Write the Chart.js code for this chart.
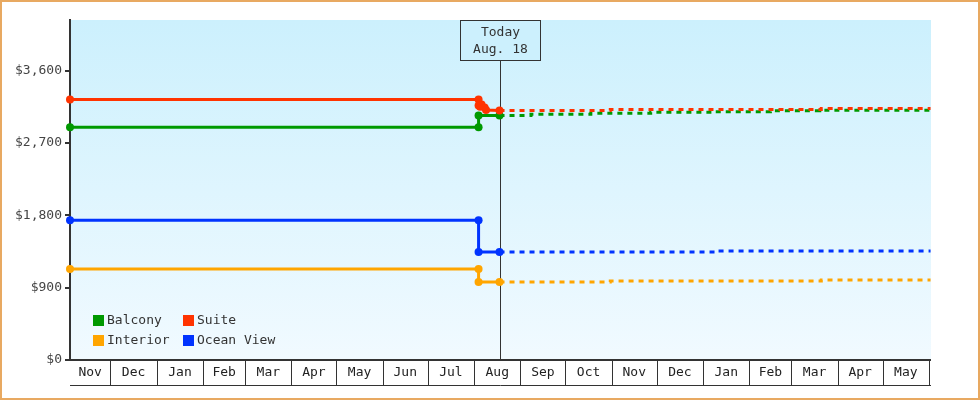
<!DOCTYPE html>
<html>
<head>
<meta charset="utf-8">
<script src="https://cdn.jsdelivr.net/npm/chart.js@4.4.0/dist/chart.umd.min.js"></script>
<style>
    html, body { margin: 0; padding: 0; background: #fff; }
    #wrap { width: 980px; height: 400px; }
</style>
</head>
<body>
<div id="wrap"><canvas id="chartPrecos" width="980" height="400"></canvas></div>
<script>
// datas em texto, convertidas para "dias desde o inicio" logo abaixo
const dataInicio = '2013-11-04';
const dataFim = '2015-06-02';
const hoje = '2014-08-18';
const hojeTexto = ['Today', 'Aug. 18'];

const mesesInicio = ['2013-12-01', '2014-01-01', '2014-02-01', '2014-03-01', '2014-04-01', '2014-05-01',
    '2014-06-01', '2014-07-01', '2014-08-01', '2014-09-01', '2014-10-01', '2014-11-01', '2014-12-01',
    '2015-01-01', '2015-02-01', '2015-03-01', '2015-04-01', '2015-05-01', '2015-06-01'];
const mesesLabels = ['Nov', 'Dec', 'Jan', 'Feb', 'Mar', 'Apr', 'May', 'Jun', 'Jul', 'Aug', 'Sep', 'Oct',
    'Nov', 'Dec', 'Jan', 'Feb', 'Mar', 'Apr', 'May'];

const yTicks = [0, 900, 1800, 2700, 3600];
const yMax = 4230;

// historico (linha cheia)
const suiteDatas = ['2013-11-04', '2014-08-04', '2014-08-04', '2014-08-05', '2014-08-06', '2014-08-08', '2014-08-09', '2014-08-18'];
const suiteValores = [3240, 3240, 3165, 3150, 3180, 3140, 3110, 3105];
const balconyDatas = ['2013-11-04', '2014-08-04', '2014-08-04', '2014-08-18'];
const balconyValores = [2895, 2895, 3042, 3042];
const oceanDatas = ['2013-11-04', '2014-08-04', '2014-08-04', '2014-08-18'];
const oceanValores = [1740, 1740, 1343, 1343];
const interiorDatas = ['2013-11-04', '2014-08-04', '2014-08-04', '2014-08-18'];
const interiorValores = [1132, 1132, 971, 971];

// previsao (tracejado)
const suitePrevDatas = ['2014-08-18', '2014-10-31', '2015-03-21', '2015-06-02'];
const suitePrevValores = [3105, 3118, 3128, 3128];
const balconyPrevDatas = ['2014-08-18', '2014-09-08', '2014-10-18', '2014-11-27', '2015-01-07', '2015-02-15', '2015-03-20', '2015-06-02'];
const balconyPrevValores = [3042, 3056, 3069, 3081, 3089, 3100, 3106, 3106];
const oceanPrevDatas = ['2014-08-18', '2015-01-09', '2015-06-02'];
const oceanPrevValores = [1343, 1355, 1355];
const interiorPrevDatas = ['2014-08-18', '2014-10-31', '2015-03-21', '2015-06-02'];
const interiorPrevValores = [971, 983, 996, 996];

const nomes = ['Balcony', 'Suite', 'Interior', 'Ocean View'];
const cores = ['#009900', '#ff3300', '#ffa500', '#0033ff'];

const fonte = 'DejaVu Sans Mono';

function dia(texto) {
    return (Date.parse(texto) - Date.parse(dataInicio)) / 86400000;
}

function pontos(datas, valores) {
    var lista = [];
    for (var i = 0; i < datas.length; i++) {
        lista.push({ x: dia(datas[i]), y: valores[i] });
    }
    return lista;
}

function serieHistorico(datas, valores, cor) {
    return {
        data: pontos(datas, valores),
        borderColor: cor,
        backgroundColor: cor,
        borderWidth: 3,
        pointRadius: 4,
        pointBorderWidth: 0,
        pointBackgroundColor: cor,
        clip: false
    };
}

function seriePrevisao(datas, valores, cor) {
    return {
        data: pontos(datas, valores),
        borderColor: cor,
        borderWidth: 3,
        borderDash: [5, 5],
        stepped: 'before',
        pointRadius: 0,
        clip: false
    };
}

const pluginDesenho = {
    id: 'desenho',
    beforeDraw(chart) {
        const { ctx, chartArea: a } = chart;
        const grad = ctx.createLinearGradient(0, a.top, 0, a.bottom);
        grad.addColorStop(0, '#ccf0fd');
        grad.addColorStop(1, '#f1faff');
        ctx.save();
        ctx.fillStyle = grad;
        ctx.fillRect(a.left, a.top, a.right - a.left, a.bottom - a.top);
        ctx.restore();
    },
    beforeDatasetsDraw(chart) {
        const { ctx, chartArea: a } = chart;
        const xHoje = Math.round(chart.scales.x.getPixelForValue(dia(hoje))) + 0.5;
        ctx.save();
        ctx.strokeStyle = '#333';
        ctx.lineWidth = 1;
        ctx.beginPath();
        ctx.moveTo(xHoje, 61);
        ctx.lineTo(xHoje, a.bottom);
        ctx.stroke();
        ctx.restore();
    },
    afterDraw(chart) {
        const { ctx, chartArea: a } = chart;
        const escalaX = chart.scales.x;
        ctx.save();

        // caixa do "Today"
        const xHoje = Math.round(escalaX.getPixelForValue(dia(hoje))) + 0.5;
        ctx.fillStyle = '#ccf0fd';
        ctx.fillRect(xHoje - 40, 20.5, 80, 40);
        ctx.strokeStyle = '#333';
        ctx.lineWidth = 1;
        ctx.strokeRect(xHoje - 40, 20.5, 80, 40);
        ctx.fillStyle = '#333';
        ctx.font = '13px "' + fonte + '"';
        ctx.textAlign = 'center';
        ctx.textBaseline = 'middle';
        ctx.fillText(hojeTexto[0], xHoje, 33);
        ctx.fillText(hojeTexto[1], xHoje, 50);

        // caixas dos meses
        const topo = a.bottom;
        const base = a.bottom + 25;
        ctx.strokeStyle = '#333';
        ctx.lineWidth = 2;
        ctx.beginPath();
        ctx.moveTo(a.left, topo);
        ctx.lineTo(a.right, topo);
        ctx.stroke();
        ctx.lineWidth = 1;
        ctx.beginPath();
        ctx.moveTo(a.left, base + 0.5);
        ctx.lineTo(a.right, base + 0.5);
        for (var i = 0; i < mesesInicio.length; i++) {
            const xm = Math.round(escalaX.getPixelForValue(dia(mesesInicio[i]))) + 0.5;
            ctx.moveTo(xm, topo);
            ctx.lineTo(xm, base);
        }
        ctx.stroke();
        ctx.fillStyle = '#222';
        var anterior = a.left;
        for (var j = 0; j < mesesLabels.length; j++) {
            const prox = escalaX.getPixelForValue(dia(mesesInicio[j]));
            ctx.fillText(mesesLabels[j], (anterior + prox) / 2, topo + 13);
            anterior = prox;
        }

        // legenda 2x2
        ctx.textAlign = 'left';
        for (var k = 0; k < nomes.length; k++) {
            const lx = 93 + (k % 2) * 90;
            const ly = 320 + Math.floor(k / 2) * 20;
            ctx.fillStyle = cores[k];
            ctx.fillRect(lx, ly - 5, 11, 11);
            ctx.fillStyle = '#333';
            ctx.fillText(nomes[k], lx + 14, ly + 1);
        }

        // moldura externa
        ctx.strokeStyle = '#e8a961';
        ctx.lineWidth = 2;
        ctx.strokeRect(1, 1, 978, 398);
        ctx.restore();
    }
};

const ctxPrecos = document.getElementById('chartPrecos');
var chartPrecos = new Chart(ctxPrecos, {
    type: 'line',
    data: {
        datasets: [
            serieHistorico(suiteDatas, suiteValores, cores[1]),
            seriePrevisao(suitePrevDatas, suitePrevValores, cores[1]),
            serieHistorico(balconyDatas, balconyValores, cores[0]),
            seriePrevisao(balconyPrevDatas, balconyPrevValores, cores[0]),
            serieHistorico(oceanDatas, oceanValores, cores[3]),
            seriePrevisao(oceanPrevDatas, oceanPrevValores, cores[3]),
            serieHistorico(interiorDatas, interiorValores, cores[2]),
            seriePrevisao(interiorPrevDatas, interiorPrevValores, cores[2])
        ]
    },
    options: {
        responsive: false,
        animation: false,
        layout: {
            padding: { left: 0, right: 49, top: 20, bottom: 40 }
        },
        plugins: {
            legend: { display: false },
            tooltip: { enabled: false }
        },
        scales: {
            x: {
                type: 'linear',
                display: false,
                min: 0,
                max: dia(dataFim) + 0.3
            },
            y: {
                min: 0,
                max: yMax,
                afterFit: function (escala) { escala.width = 70; },
                afterBuildTicks: function (escala) {
                    escala.ticks = yTicks.map(function (v) { return { value: v }; });
                },
                ticks: {
                    color: '#444',
                    padding: 3,
                    font: { family: fonte, size: 13 },
                    callback: function (v) { return '$' + v.toLocaleString('en-US'); }
                },
                grid: {
                    drawOnChartArea: false,
                    drawTicks: true,
                    tickLength: 5,
                    color: '#333',
                    lineWidth: 2
                },
                border: { color: '#333', width: 2 }
            }
        }
    },
    plugins: [pluginDesenho]
});
</script>
</body>
</html>
